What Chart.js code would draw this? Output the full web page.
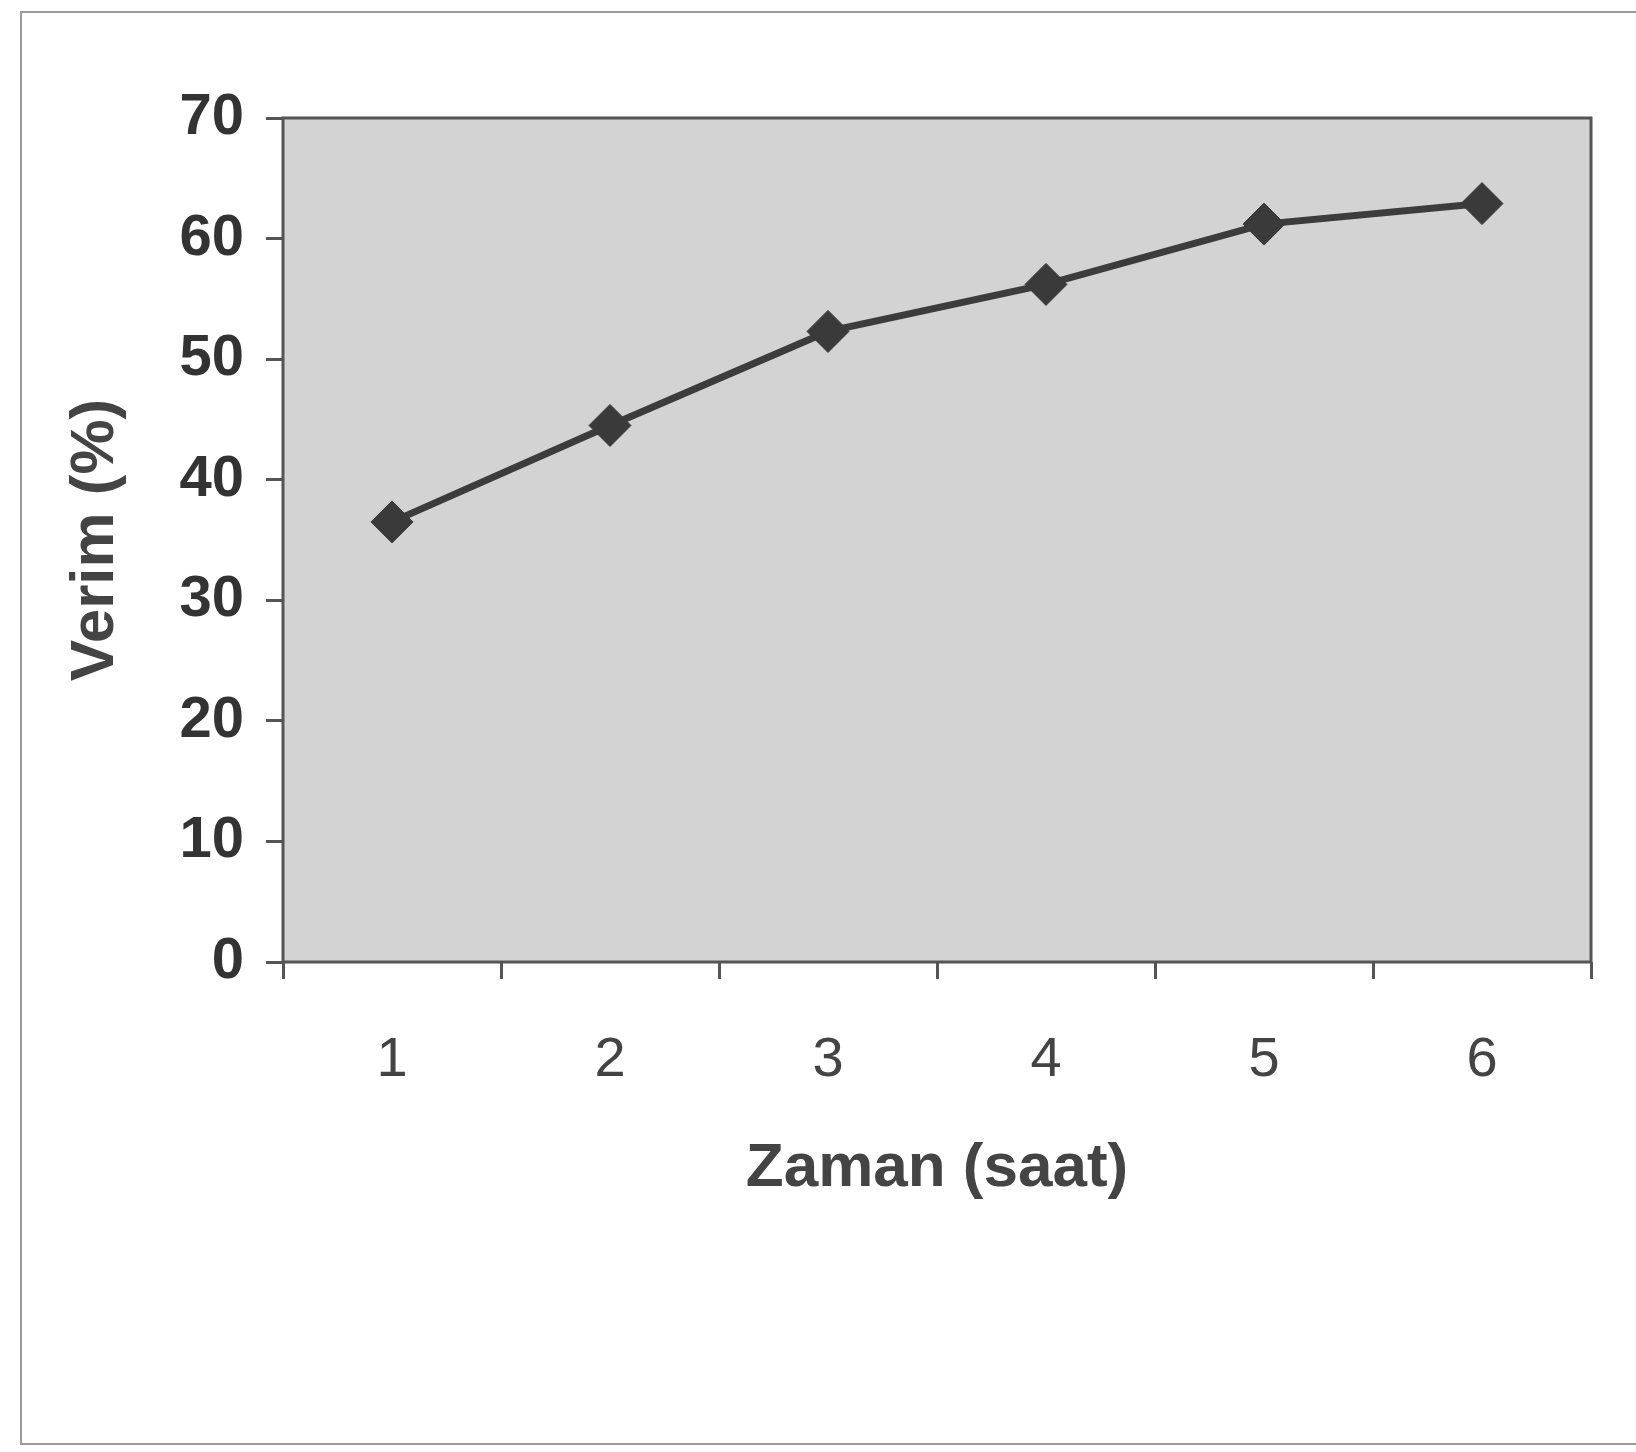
<!DOCTYPE html>
<html>
<head>
<meta charset="utf-8">
<script src="https://cdn.jsdelivr.net/npm/chart.js@4.4.1/dist/chart.umd.min.js"></script>
<style>
  html, body { margin: 0; padding: 0; background: #fff; }
  canvas { display: block; }
</style>
</head>
<body>
<canvas id="verimChart" width="1636" height="1452"></canvas>
<script>
// data
const hours = ['1', '2', '3', '4', '5', '6'];
const yieldPct = [36.5, 44.5, 52.3, 56.2, 61.2, 62.9];
const yTicks = [0, 10, 20, 30, 40, 50, 60, 70];

const FONT = '"Liberation Sans", Arial, sans-serif';

// grey plot area, frame around it, thin outer border
const plotFrame = {
    id: 'plotFrame',
    beforeDraw(chart) {
        const { ctx, chartArea: a } = chart;
        ctx.save();
        ctx.fillStyle = '#d3d3d3';
        ctx.fillRect(a.left, a.top, a.right - a.left, a.bottom - a.top);
        ctx.strokeStyle = '#9a9a9a';
        ctx.lineWidth = 2;
        ctx.strokeRect(21, 12, 1640, 1432);
        ctx.restore();
    },
    beforeDatasetsDraw(chart) {
        const { ctx, chartArea: a } = chart;
        ctx.save();
        ctx.strokeStyle = '#555';
        ctx.lineWidth = 3;
        ctx.strokeRect(a.left, a.top, a.right - a.left, a.bottom - a.top);
        ctx.restore();
    }
};

const ctx = document.getElementById('verimChart').getContext('2d');

new Chart(ctx, {
    type: 'line',
    data: {
        labels: hours,
        datasets: [{
            data: yieldPct,
            borderColor: '#3c3c3c',
            borderWidth: 7,
            pointStyle: 'rectRot',
            pointRadius: 21,
            pointBackgroundColor: '#3a3a3a',
            pointBorderColor: '#3a3a3a',
            pointBorderWidth: 1,
            fill: false,
            tension: 0
        }]
    },
    options: {
        responsive: false,
        animation: false,
        events: [],
        layout: { padding: { left: 0, right: 45, top: 118, bottom: 0 } },
        plugins: {
            legend: { display: false },
            tooltip: { enabled: false }
        },
        scales: {
            x: {
                offset: true,
                grid: {
                    offset: true,
                    drawOnChartArea: false,
                    color: '#555',
                    lineWidth: 3,
                    tickLength: 17
                },
                border: { display: false },
                ticks: {
                    color: '#444',
                    padding: 48,
                    font: { family: FONT, size: 56 }
                },
                title: {
                    display: true,
                    text: 'Zaman (saat)',
                    color: '#444',
                    font: { family: FONT, size: 62, weight: 'bold' },
                    padding: { top: 0, bottom: 246 }
                },
                afterFit(scale) { scale.height = 490; }
            },
            y: {
                min: 0,
                max: 70,
                afterBuildTicks(scale) {
                    scale.ticks = yTicks.map(v => ({ value: v }));
                },
                grid: {
                    drawOnChartArea: false,
                    color: '#555',
                    lineWidth: 3,
                    tickLength: 17
                },
                border: { display: false },
                ticks: {
                    color: '#333',
                    padding: 22,
                    font: { family: FONT, size: 58, weight: 'bold' }
                },
                title: {
                    display: true,
                    text: 'Verim (%)',
                    color: '#444',
                    font: { family: FONT, size: 62, weight: 'bold' },
                    padding: { top: 59, bottom: 0 }
                },
                afterFit(scale) { scale.width = 283; }
            }
        }
    },
    plugins: [plotFrame]
});
</script>
</body>
</html>
